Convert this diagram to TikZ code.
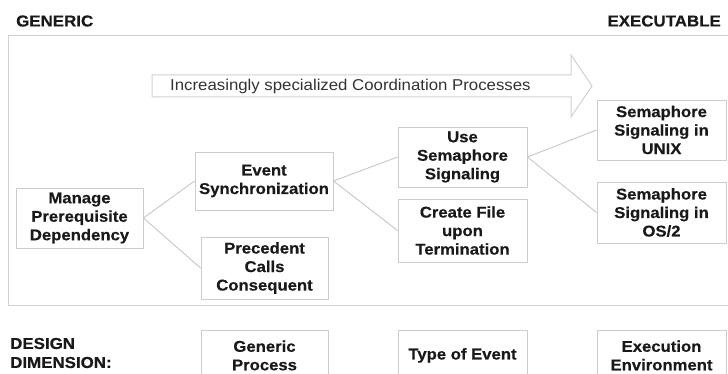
\documentclass[tikz,border=0pt]{standalone}
\usepackage{fontspec}
\setmainfont{Liberation Sans}[FakeStretch=1.07,BoldFeatures={FakeBold=0.4}]
\begin{document}
\begin{tikzpicture}[x=1pt,y=-1pt,
  frame/.style={draw=black!18,line width=1pt},
  link/.style={draw=black!22,line width=0.9pt},
  card/.style={draw=black!20,line width=0.9pt,fill=white,inner sep=0pt,align=center,
    font=\fontsize{15.6}{18.5}\selectfont\bfseries,text=black!90},
  heading/.style={inner sep=0pt,align=left,font=\fontsize{15.8}{19}\selectfont\bfseries,text=black!90}]
\useasboundingbox (0,0) rectangle (728,374);
\fill[white] (0,0) rectangle (728,374);

% outer frame of the process space
\draw[frame] (740,36) -- (8,36) -- (8,305) -- (740,305);

% specialization arrow
\draw[frame,line join=miter]
  (152,75) -- (571,75) -- (571,55) -- (592,86) -- (571,117) -- (571,97) -- (152,97) -- cycle;
\node[anchor=west,inner sep=0pt,font=\fontsize{15.7}{18}\selectfont,text=black!80]
  (spec) at (170,86) {Increasingly specialized Coordination Processes};

% column headings
\node[heading,anchor=west] (gen) at (16,21) {GENERIC};
\node[heading,anchor=east] (exe) at (721,21) {EXECUTABLE};

% process hierarchy
\node[card,minimum width=127pt,minimum height=60pt] (mpd) at (79.5,218)
  {Manage\\Prerequisite\\Dependency};
\node[card,minimum width=138pt,minimum height=58pt] (evs) at (264,181)
  {Event\\Synchronization};
\node[card,minimum width=127pt,minimum height=62pt] (pcc) at (264.5,268)
  {Precedent\\Calls\\Consequent};
\node[card,minimum width=129pt,minimum height=60pt] (uss) at (462.5,157)
  {Use\\Semaphore\\Signaling};
\node[card,minimum width=129pt,minimum height=63pt] (cft) at (462.5,230.5)
  {Create File\\upon\\Termination};
\node[card,minimum width=129pt,minimum height=60pt] (unx) at (661.5,130)
  {Semaphore\\Signaling in\\UNIX};
\node[card,minimum width=129pt,minimum height=61pt] (os2) at (661.5,212.5)
  {Semaphore\\Signaling in\\OS/2};

\draw[link] (mpd.east) -- (evs.west);
\draw[link] (mpd.east) -- (pcc.west);
\draw[link] (evs.east) -- (uss.west);
\draw[link] (evs.east) -- (cft.west);
\draw[link] (uss.east) -- (unx.west);
\draw[link] (uss.east) -- (os2.west);

% design dimensions
\node[heading,anchor=west] (dd) at (10,353) {DESIGN\\DIMENSION:};
\node[card,anchor=north,minimum width=127pt,minimum height=50pt] (gp) at (264.5,330)
  {Generic\\Process};
\node[card,anchor=north,minimum width=129pt,minimum height=50pt] (toe) at (462.5,330)
  {Type of Event};
\node[card,anchor=north,minimum width=129pt,minimum height=50pt] (ee) at (661.5,330)
  {Execution\\Environment};
\end{tikzpicture}
\end{document}
